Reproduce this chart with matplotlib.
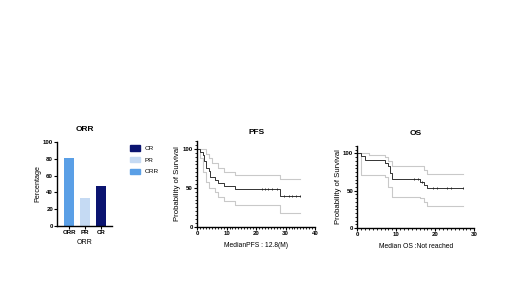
import numpy as np
import matplotlib
matplotlib.use("Agg")
import matplotlib.pyplot as plt
from matplotlib.patches import Patch
from matplotlib.ticker import MultipleLocator

plt.rcParams['font.family'] = ['Liberation Sans', 'DejaVu Sans']
plt.rcParams['font.weight'] = 'bold'

# response rates
resp_cats = ['ORR', 'PR', 'CR']
resp_vals = [81, 33, 48]
resp_colors = ['#5a9fe6', '#c5daf3', '#0b1470']

# PFS Kaplan-Meier (time in months, survival %)
pfs_t = [0, 1, 2, 2.5, 3, 4, 4.5, 6, 7, 9, 13, 28, 35]
pfs_s = [100, 96, 92, 84, 76, 72, 64, 60, 56, 52, 48, 40, 40]
pfs_up_t = [0, 2, 3, 4, 5, 7, 9, 13, 28, 35]
pfs_up_s = [100, 100, 94, 88, 82, 75, 70, 66, 61, 61]
pfs_lo_t = [0, 1, 2, 3, 4, 6, 7, 9, 13, 28, 35]
pfs_lo_s = [100, 88, 70, 58, 50, 45, 38, 33, 28, 18, 18]
pfs_cens = [22, 23, 24, 25.5, 27, 29.5, 31, 32, 33.5, 35]
pfs_cens_s = [48, 48, 48, 48, 48, 40, 40, 40, 40, 40]

# OS Kaplan-Meier
os_t = [0, 1, 2, 7, 8, 8.5, 9, 16, 17, 18, 27]
os_s = [100, 96, 91, 87, 83, 74, 66, 62, 58, 54, 54]
os_up_t = [0, 3, 7, 8, 9, 17, 18, 27]
os_up_s = [100, 98, 95, 90, 83, 78, 73, 73]
os_lo_t = [0, 1, 7, 8, 9, 16, 17, 18, 27]
os_lo_s = [100, 71, 68, 55, 42, 40, 35, 29, 29]
os_cens = [14.5, 15.5, 16.5, 19.5, 20.5, 23, 24, 27]
os_cens_s = [66, 66, 62, 54, 54, 54, 54, 54]

fig = plt.figure(figsize=(5.2, 2.92), dpi=100)

def style(ax):
    ax.spines['top'].set_visible(False)
    ax.spines['right'].set_visible(False)
    ax.spines['left'].set_linewidth(1.0)
    ax.spines['bottom'].set_linewidth(1.0)
    ax.tick_params(labelsize=4.4, width=0.8, length=2, pad=1)
    ax.tick_params(which='minor', width=0.6, length=1.2)

# ORR bar chart
ax1 = fig.add_axes([0.110, 0.226, 0.105, 0.288])
ax1.bar(range(3), resp_vals, width=0.65, color=resp_colors)
ax1.set_xlim(-0.75, 2.69)
ax1.set_ylim(0, 100)
ax1.set_xticks(range(3))
ax1.set_xticklabels(resp_cats)
ax1.set_yticks([0, 20, 40, 60, 80, 100])
ax1.set_ylabel('Percentage', fontsize=5.2, labelpad=1)
ax1.set_xlabel('ORR', fontsize=5, labelpad=3)
ax1.set_title('ORR', fontsize=6, fontweight='bold', pad=8)
style(ax1)

handles = [Patch(color=resp_colors[2], label='CR'),
           Patch(color=resp_colors[1], label='PR'),
           Patch(color=resp_colors[0], label='ORR')]
leg = fig.legend(handles=handles, loc='upper left', bbox_to_anchor=(0.238, 0.522),
                 frameon=False, fontsize=4.6, handlelength=1.6, handleheight=0.9,
                 labelspacing=0.9, handletextpad=0.8)
for t in leg.get_texts():
    t.set_fontweight('normal')

def km(ax, t, s, ut, us, lt, ls, ct, cs, xmax, xmaj, title, xlabel, tpad):
    ax.step(ut, us, where='post', color='#c9c9c9', lw=0.8)
    ax.step(lt, ls, where='post', color='#c9c9c9', lw=0.8)
    ax.step(t, s, where='post', color='#333333', lw=0.7)
    ax.plot(ct, cs, '|', color='#222222', ms=2, mew=0.6)
    ax.set_xlim(0, xmax)
    ax.set_ylim(0, 110)
    ax.set_yticks([0, 50, 100])
    ax.xaxis.set_major_locator(MultipleLocator(xmaj))
    ax.xaxis.set_minor_locator(MultipleLocator(1))
    ax.yaxis.set_minor_locator(MultipleLocator(5))
    ax.set_ylabel('Probability of Survival', fontsize=5.6, labelpad=1)
    ax.set_xlabel(xlabel, fontsize=4.9, labelpad=4.5)
    ax.set_title(title, fontsize=6, fontweight='bold', pad=tpad)
    style(ax)

ax2 = fig.add_axes([0.379, 0.223, 0.227, 0.294])
km(ax2, pfs_t, pfs_s, pfs_up_t, pfs_up_s, pfs_lo_t, pfs_lo_s,
   pfs_cens, pfs_cens_s, 40, 10, 'PFS', 'MedianPFS : 12.8(M)', 5)

ax3 = fig.add_axes([0.687, 0.219, 0.225, 0.281])
km(ax3, os_t, os_s, os_up_t, os_up_s, os_lo_t, os_lo_s,
   os_cens, os_cens_s, 30, 10, 'OS', 'Median OS :Not reached', 8)

fig.savefig('out.png', dpi=100)
